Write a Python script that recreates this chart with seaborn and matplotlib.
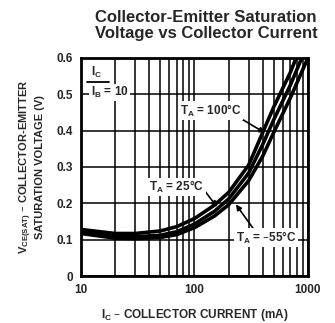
import numpy as np
import pandas as pd
import matplotlib
matplotlib.use("Agg")
import matplotlib.pyplot as plt
from matplotlib.ticker import FixedLocator, NullFormatter
import seaborn as sns

# Collector current (mA) and VCE(sat) (V)
current = [10, 20, 30, 50, 70, 100, 150, 200, 300, 400, 500, 700, 1000]
vsat_100c = [0.128, 0.117, 0.117, 0.124, 0.136, 0.158, 0.195, 0.230, 0.305, 0.395, 0.465, 0.56, 0.68]
vsat_25c = [0.122, 0.110, 0.108, 0.112, 0.122, 0.143, 0.178, 0.212, 0.283, 0.362, 0.430, 0.525, 0.64]
vsat_m55c = [0.117, 0.104, 0.103, 0.106, 0.114, 0.133, 0.165, 0.196, 0.262, 0.330, 0.395, 0.49, 0.60]

df = pd.DataFrame({
    "current": current * 3,
    "vsat": vsat_100c + vsat_25c + vsat_m55c,
    "temp": ["100"] * len(current) + ["25"] * len(current) + ["-55"] * len(current),
})

sns.set_style("white")
plt.rcParams["font.family"] = ["Liberation Sans Narrow", "Liberation Sans", "DejaVu Sans"]

fig = plt.figure(figsize=(3.35, 3.23), dpi=100)
ax = fig.add_axes([0.242, 0.1455, 0.677, 0.675])

sns.lineplot(data=df, x="current", y="vsat", hue="temp",
             palette=["black", "black", "black"], linewidth=2.6,
             legend=False, ax=ax, sort=False)

ax.set_xscale("log")
ax.set_xlim(10, 1000)
ax.set_ylim(0, 0.6)
ax.set_xticks([10, 100, 1000])
ax.set_xticklabels(["10", "100", "1000"])
minor = [m * d for d in (10, 100) for m in range(2, 10)]
ax.xaxis.set_minor_locator(FixedLocator(minor))
ax.xaxis.set_minor_formatter(NullFormatter())
ax.set_yticks([0, 0.1, 0.2, 0.3, 0.4, 0.5, 0.6])
ax.set_yticklabels(["0", "0.1", "0.2", "0.3", "0.4", "0.5", "0.6"])
ax.grid(True, which="both", color="black", linewidth=1.1)
ax.tick_params(which="both", length=0, labelsize=8.5, pad=6)
for lab in ax.get_xticklabels() + ax.get_yticklabels():
    lab.set_fontweight("bold")
for s in ax.spines.values():
    s.set_color("black")
    s.set_linewidth(2)

ax.set_xlabel(r"I$_\mathregular{C}$ – COLLECTOR CURRENT (mA)", fontsize=8.5,
              fontweight="bold", labelpad=8)
ax.set_ylabel("V$_\\mathregular{CE(SAT)}$ – COLLECTOR-EMITTER\nSATURATION VOLTAGE (V)",
              fontsize=8, fontweight="bold", labelpad=8, linespacing=1.1)

fig.text(0.615, 0.97, "Collector-Emitter Saturation\nVoltage vs Collector Current",
         ha="center", va="top", fontsize=12, fontweight="bold",
         family=["Liberation Sans", "DejaVu Sans"], linespacing=1.1)

box = dict(facecolor="white", edgecolor="none", pad=1)
tk = dict(fontsize=8.5, fontweight="bold")
ax.text(12.2, 0.560, "I$_\\mathregular{C}$", ha="left", va="center", bbox=box, **tk)
ax.plot([11.3, 17.5], [0.535, 0.535], color="black", linewidth=1.3)
ax.text(12.2, 0.505, "I$_\\mathregular{B}$ = 10", ha="left", va="center", bbox=box, **tk)

arrow = dict(arrowstyle="-|>", color="black", lw=1.2, shrinkA=0, shrinkB=0,
             mutation_scale=8)
ax.annotate("T$_\\mathregular{A}$ = 100°C", xy=(418, 0.394), xytext=(74, 0.455),
            ha="left", va="center", bbox=box, **tk,
            arrowprops=dict(arrow, relpos=(1.0, 0.0)))
ax.annotate("T$_\\mathregular{A}$ = 25°C", xy=(158, 0.19), xytext=(40, 0.245),
            ha="left", va="center", bbox=box, **tk,
            arrowprops=dict(arrow, relpos=(1.0, 0.3)))
ax.annotate("T$_\\mathregular{A}$ = –55°C", xy=(232, 0.197), xytext=(232, 0.105),
            ha="left", va="center", bbox=box, **tk,
            arrowprops=dict(arrow, relpos=(0.3, 1.0)))

fig.savefig("out.png", dpi=100)
